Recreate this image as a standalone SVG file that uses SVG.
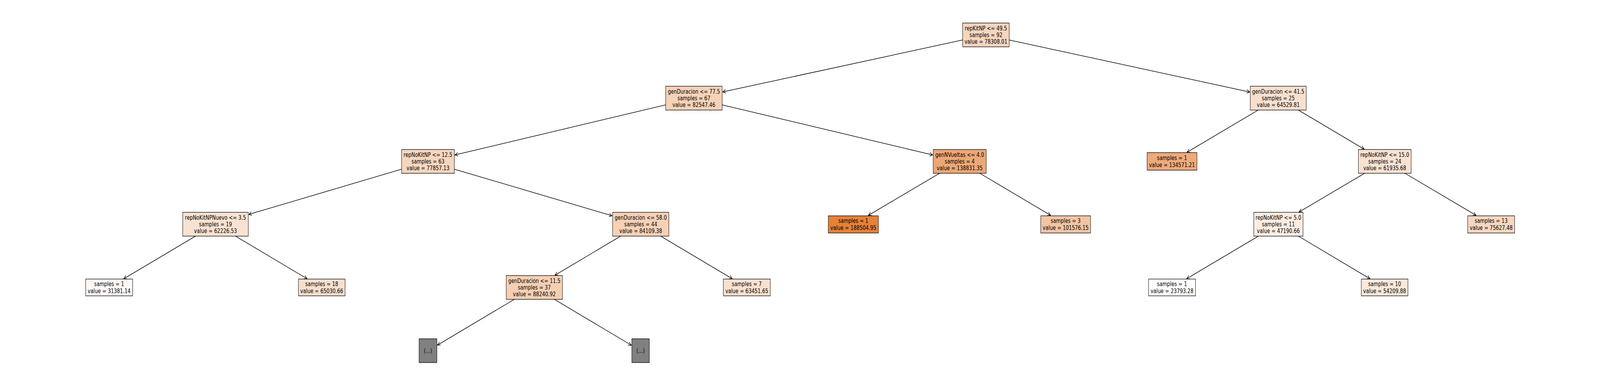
<svg xmlns="http://www.w3.org/2000/svg" width="5490" height="989" viewBox="0 0 5490 989" preserveAspectRatio="none" style="width:100vw;height:100vh;display:block">
<style>
.e{stroke:#000;stroke-width:1.5;fill:none;marker-end:url(#ah)}
.b{stroke:#000;stroke-width:1.3}
text{font-family:"DejaVu Sans","Liberation Sans",sans-serif;font-size:16.4px;fill:#000;text-anchor:middle}
</style>
<defs>
<marker id="ah" markerUnits="userSpaceOnUse" markerWidth="14" markerHeight="12" viewBox="-12 -6 14 12" refX="0" refY="0" orient="auto">
<path d="M-10,-4.5 L0,0 L-10,4.5" fill="none" stroke="#000" stroke-width="1.5"/>
</marker>
</defs>
<rect width="5490" height="989" fill="#fff"/>
<g id="connectors">
<line class="e" x1="3383" y1="89.5" x2="2480" y2="235.5"/>
<line class="e" x1="3383" y1="89.5" x2="4288" y2="235.7"/>
<line class="e" x1="2381" y1="251.5" x2="1561" y2="397.1"/>
<line class="e" x1="2381" y1="251.5" x2="3200" y2="397"/>
<line class="e" x1="1468.5" y1="413.5" x2="854" y2="549.3"/>
<line class="e" x1="1468.5" y1="413.5" x2="2100" y2="552.8"/>
<line class="e" x1="739.5" y1="574.5" x2="424.7" y2="714.2"/>
<line class="e" x1="739.5" y1="574.5" x2="1053.8" y2="714.2"/>
<line class="e" x1="2198.5" y1="574.5" x2="1904" y2="705.2"/>
<line class="e" x1="2198.5" y1="574.5" x2="2512.4" y2="714.2"/>
<line class="e" x1="1833.5" y1="736.5" x2="1500.8" y2="884.2"/>
<line class="e" x1="1833.5" y1="736.5" x2="2166.2" y2="884.4"/>
<line class="e" x1="3293" y1="413.5" x2="2979.7" y2="551.7"/>
<line class="e" x1="3293" y1="413.5" x2="3605" y2="551.7"/>
<line class="e" x1="4386" y1="251.5" x2="4072.9" y2="390.2"/>
<line class="e" x1="4386" y1="251.5" x2="4681" y2="382.2"/>
<line class="e" x1="4751.5" y1="413.5" x2="4457.4" y2="543.2"/>
<line class="e" x1="4751.5" y1="413.5" x2="5064.8" y2="551.7"/>
<line class="e" x1="4386.5" y1="574.5" x2="4071.7" y2="714.2"/>
<line class="e" x1="4386.5" y1="574.5" x2="4700.8" y2="714.2"/>
</g>
<g id="n1"><rect class="b" x="3303" y="59" width="160" height="61" fill="#f6d5bd"/><text x="3383" y="77.7">repKitNP &lt;= 49.5</text><text x="3383" y="95">samples = 92</text><text x="3383" y="112.3">value = 78308.01</text></g>
<g id="n2"><rect class="b" x="2284" y="221" width="194" height="61" fill="#f6d2b8"/><text x="2381" y="239.7">genDuracion &lt;= 77.5</text><text x="2381" y="257">samples = 67</text><text x="2381" y="274.3">value = 82547.46</text></g>
<g id="n3"><rect class="b" x="1378" y="383" width="181" height="61" fill="#f6d6be"/><text x="1468.5" y="401.7">repNoKitNP &lt;= 12.5</text><text x="1468.5" y="419">samples = 63</text><text x="1468.5" y="436.3">value = 77857.13</text></g>
<g id="n4"><rect class="b" x="627" y="544" width="225" height="61" fill="#f9e2d1"/><text x="739.5" y="562.7">repNoKitNPNuevo &lt;= 3.5</text><text x="739.5" y="580">samples = 19</text><text x="739.5" y="597.3">value = 62226.53</text></g>
<g id="n5"><rect class="b" x="294" y="715" width="161" height="43" fill="#fef9f6"/><text x="374.5" y="733.4">samples = 1</text><text x="374.5" y="750.6">value = 31381.14</text></g>
<g id="n6"><rect class="b" x="1024" y="715" width="160" height="43" fill="#f8dfcd"/><text x="1104" y="733.4">samples = 18</text><text x="1104" y="750.6">value = 65030.66</text></g>
<g id="n7"><rect class="b" x="2102" y="544" width="193" height="61" fill="#f6d1b6"/><text x="2198.5" y="562.7">genDuracion &lt;= 58.0</text><text x="2198.5" y="580">samples = 44</text><text x="2198.5" y="597.3">value = 84109.38</text></g>
<g id="n8"><rect class="b" x="1737" y="706" width="193" height="61" fill="#f5cfb2"/><text x="1833.5" y="724.7">genDuracion &lt;= 11.5</text><text x="1833.5" y="742">samples = 37</text><text x="1833.5" y="759.3">value = 88240.92</text></g>
<g id="n8a"><rect class="b" x="1438" y="868" width="61" height="61" fill="#808080"/><text x="1468.5" y="904">(...)</text></g>
<g id="n8b"><rect class="b" x="2168" y="868" width="60" height="61" fill="#808080"/><text x="2198" y="904">(...)</text></g>
<g id="n9"><rect class="b" x="2482" y="715" width="161" height="43" fill="#f9e1cf"/><text x="2562.5" y="733.4">samples = 7</text><text x="2562.5" y="750.6">value = 63451.65</text></g>
<g id="n10"><rect class="b" x="3202" y="383" width="182" height="61" fill="#eda775"/><text x="3293" y="401.7">genNVueltas &lt;= 4.0</text><text x="3293" y="419">samples = 4</text><text x="3293" y="436.3">value = 138831.35</text></g>
<g id="n11"><rect class="b" x="2842" y="553" width="172" height="44" fill="#e58139"/><text x="2928" y="571.4">samples = 1</text><text x="2928" y="588.6">value = 188504.95</text></g>
<g id="n12"><rect class="b" x="3571" y="553" width="171" height="44" fill="#f3c4a2"/><text x="3656.5" y="571.4">samples = 3</text><text x="3656.5" y="588.6">value = 101576.15</text></g>
<g id="n13"><rect class="b" x="4290" y="221" width="192" height="61" fill="#f9e0ce"/><text x="4386" y="239.7">genDuracion &lt;= 41.5</text><text x="4386" y="257">samples = 25</text><text x="4386" y="274.3">value = 64529.81</text></g>
<g id="n14"><rect class="b" x="3936" y="391" width="171" height="45" fill="#eeaa7a"/><text x="4021.5" y="410.4">samples = 1</text><text x="4021.5" y="427.6">value = 134571.21</text></g>
<g id="n15"><rect class="b" x="4661" y="383" width="181" height="61" fill="#f9e2d1"/><text x="4751.5" y="401.7">repNoKitNP &lt;= 15.0</text><text x="4751.5" y="419">samples = 24</text><text x="4751.5" y="436.3">value = 61935.68</text></g>
<g id="n16"><rect class="b" x="4302" y="544" width="169" height="61" fill="#fbede3"/><text x="4386.5" y="562.7">repNoKitNP &lt;= 5.0</text><text x="4386.5" y="580">samples = 11</text><text x="4386.5" y="597.3">value = 47190.66</text></g>
<g id="n17"><rect class="b" x="3941" y="715" width="161" height="43" fill="#ffffff"/><text x="4021.5" y="733.4">samples = 1</text><text x="4021.5" y="750.6">value = 23793.28</text></g>
<g id="n18"><rect class="b" x="4671" y="715" width="160" height="43" fill="#fae8da"/><text x="4751" y="733.4">samples = 10</text><text x="4751" y="750.6">value = 54209.88</text></g>
<g id="n19"><rect class="b" x="5036" y="553" width="161" height="44" fill="#f7d7c1"/><text x="5116.5" y="571.4">samples = 13</text><text x="5116.5" y="588.6">value = 75627.48</text></g>
</svg>
